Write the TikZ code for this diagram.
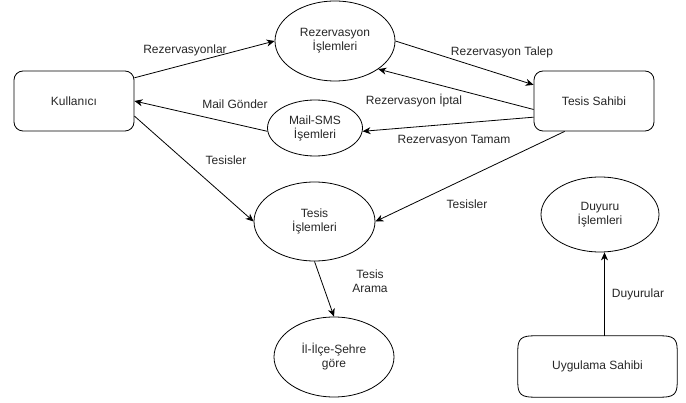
\documentclass[tikz,border=0pt]{standalone}
\usepackage{fontspec}
\setmainfont{Liberation Sans}
\usetikzlibrary{arrows.meta,shapes.geometric,calc}
\begin{document}
\begin{tikzpicture}[x=1pt,y=-1pt,
  every node/.style={font=\fontsize{12}{14}\selectfont, text=black!85},
  proc/.style={draw, line width=0.8pt, rounded corners=9pt, minimum width=120pt, minimum height=60pt, align=center},
  ell/.style={draw, line width=0.8pt, ellipse, inner sep=0pt, align=center},
  arr/.style={draw, line width=0.8pt, -{Stealth[length=8pt,width=7pt,inset=2.5pt]}},
  lbl/.style={align=center, inner sep=1pt}]
\useasboundingbox (0,0) rectangle (686,403);
% nodes
\node[proc] (kul) at (74,101) {Kullanıcı};
\node[proc] (ts) at (594,101) {Tesis Sahibi};
\node[ell, minimum width=120pt, minimum height=80pt] (rez) at (335,41) {Rezervasyon\\İşlemleri};
\node[ell, minimum width=95pt, minimum height=56pt] (mail) at (315,128) {Mail-SMS\\İşemleri};
\node[ell, minimum width=121pt, minimum height=79pt] (tis) at (314.5,221.5) {Tesis\\İşlemleri};
\node[ell, minimum width=120pt, minimum height=80pt] (ilce) at (334,357) {İl-İlçe-Şehre\\göre};
\node[ell, minimum width=118pt, minimum height=75pt] (duy) at (600,214.5) {Duyuru\\İşlemleri};
\node[minimum width=159pt, minimum height=61pt, inner sep=0pt] (uyg) at (597.5,366.5) {Uygulama Sahibi};
\draw[line width=0.8pt]
  ($(uyg.north west)+(0,14)$) .. controls ($(uyg.north west)+(0,3)$) and ($(uyg.north west)+(4,0)$) .. ($(uyg.north west)+(16,0)$)
  -- ($(uyg.north east)+(-16,0)$) .. controls ($(uyg.north east)+(-4,0)$) and ($(uyg.north east)+(0,3)$) .. ($(uyg.north east)+(0,14)$)
  -- ($(uyg.south east)+(0,-14)$) .. controls ($(uyg.south east)+(0,-3)$) and ($(uyg.south east)+(-4,0)$) .. ($(uyg.south east)+(-16,0)$)
  -- ($(uyg.south west)+(16,0)$) .. controls ($(uyg.south west)+(4,0)$) and ($(uyg.south west)+(0,-3)$) .. ($(uyg.south west)+(0,-14)$)
  -- cycle;
% connectors
\draw[arr] (kul.21) -- (rez.west);
\draw[arr] (rez.east) -- (ts.165);
\draw[arr] (ts.188) -- (rez.-33);
\draw[arr] (ts.195) -- (mail.-4);
\draw[arr] (mail.184) -- (kul.east);
\draw[arr] (kul.-14) -- (tis.west);
\draw[arr] (ts.226) -- (tis.east);
\draw[arr] (tis.south) -- (ilce.north);
\coordinate (up) at ($(uyg.north)+(7,0)$);
\draw[arr] (up) -- (up |- duy.south);
% labels
\node[lbl] (l1) at (185,50) {Rezervasyonlar};
\node[lbl] (l2) at (502,52) {Rezervasyon Talep};
\node[lbl] (l3) at (414,101) {Rezervasyon İptal};
\node[lbl] (l4) at (454,141) {Rezervasyon Tamam};
\node[lbl] (l5) at (235,104) {Mail Gönder};
\node[lbl] (l6) at (226,160) {Tesisler};
\node[lbl] (l7) at (467,204) {Tesisler};
\node[lbl] (l8) at (370,281) {Tesis\\Arama};
\node[lbl] (l9) at (638,294) {Duyurular};
\end{tikzpicture}
\end{document}
